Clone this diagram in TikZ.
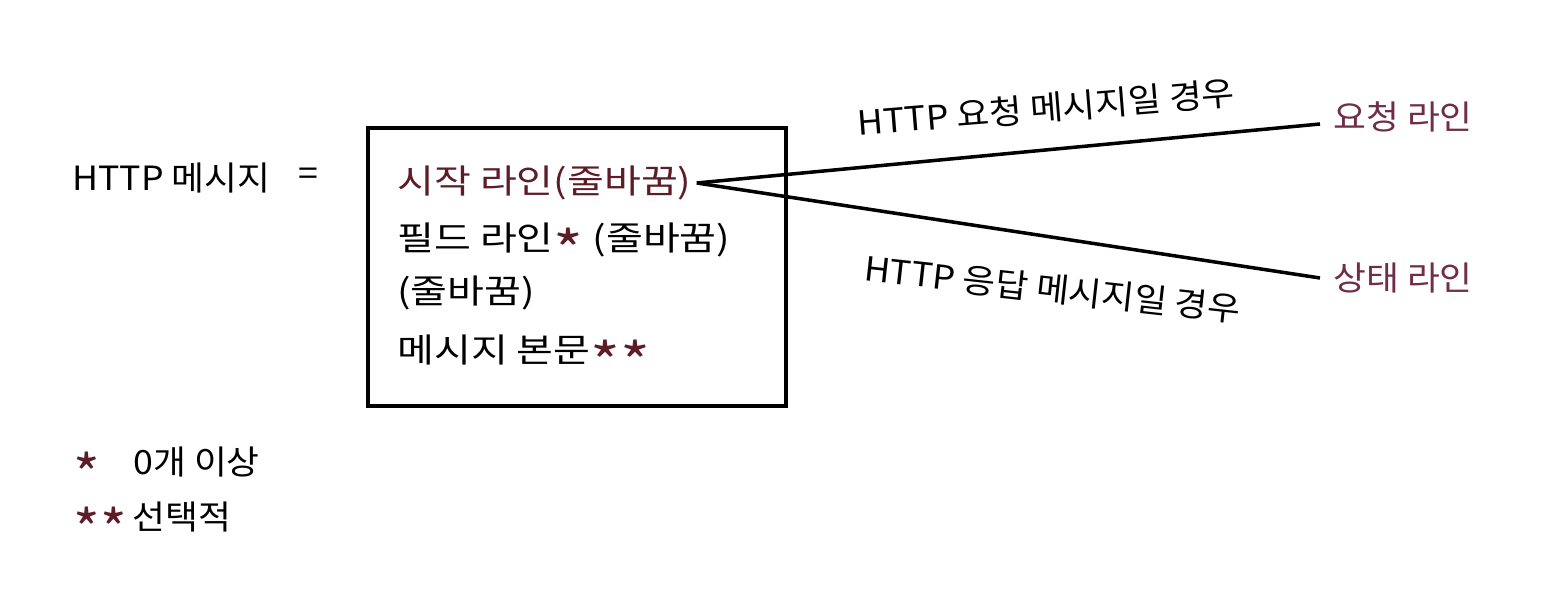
\documentclass[tikz,border=0pt]{standalone}
\usepackage{fontspec}
\setmainfont{Noto Sans CJK KR}[FakeStretch=1.07]
\newfontfamily\boxfam{Noto Sans CJK KR}[FakeStretch=1.2]
\usepackage{tikz}
\usetikzlibrary{positioning,calc}
\definecolor{LineRed}{RGB}{92,28,40}
\definecolor{KindRed}{RGB}{112,45,72}
\newcommand{\msgfont}{\fontsize{19}{23}\selectfont}
\newcommand{\boxtext}{\boxfam\fontsize{19}{23}\selectfont}
\newcommand{\redast}{{\color{LineRed}\smash{\raisebox{-1.1ex}{\scalebox{1.6}{*}}}}}

\begin{document}
\begin{tikzpicture}[
    txt/.style={inner sep=0pt,anchor=west,font=\msgfont},
    line/.style={inner sep=0pt,anchor=west,font=\boxtext},
    wire/.style={line width=2pt,black}
  ]
            \useasboundingbox (0,0) rectangle (30.86,11.86);
            % left side
            \node[txt] (msg) at (1.44,8.3) {HTTP 메시지};
            \node[font=\msgfont,inner sep=0pt] (eq) at (6.16,8.32) {=};
            \draw[wire] (7.36,3.74) rectangle (15.72,9.30);
            \node[line,LineRed] (start) at (7.94,8.2) {시작 라인(줄바꿈)};
            \node[line] (field) at (7.94,7.06) {필드 라인\redast{} (줄바꿈)};
            \node[line] (crlf) at (7.94,6.0) {(줄바꿈)};
            \node[line] (body) at (7.94,4.86) {메시지 본문\redast\redast};
            % right side
            \node[txt,KindRed] (req) at (26.66,9.52) {요청 라인};
            \node[txt,KindRed] (stat) at (26.66,6.3) {상태 라인};
            \coordinate (fork) at ($(start.east)+(0.1,0)$);
            \draw[wire] (fork) -- ($(req.west)+(-0.26,-0.14)$);
            \draw[wire] (fork) -- ($(stat.west)+(-0.26,0)$);
            \node[font=\msgfont,rotate=4.6] (reqlbl) at (20.92,9.7) {HTTP 요청 메시지일 경우};
            \node[font=\msgfont,rotate=-6.3] (statlbl) at (21.05,6.08) {HTTP 응답 메시지일 경우};
            % notes
            \node[txt] (n1t) at (2.66,2.62) {0개 이상};
            \node[txt] (n2t) at (2.64,1.52) {선택적};
            \node[txt,anchor=base west] (n1) at ($(n1t.base west)+(-1.2,0)$) {\redast};
            \node[txt,anchor=base west] (n2) at ($(n2t.base west)+(-1.18,0)$) {\redast\redast};
        \end{tikzpicture}
\end{document}
